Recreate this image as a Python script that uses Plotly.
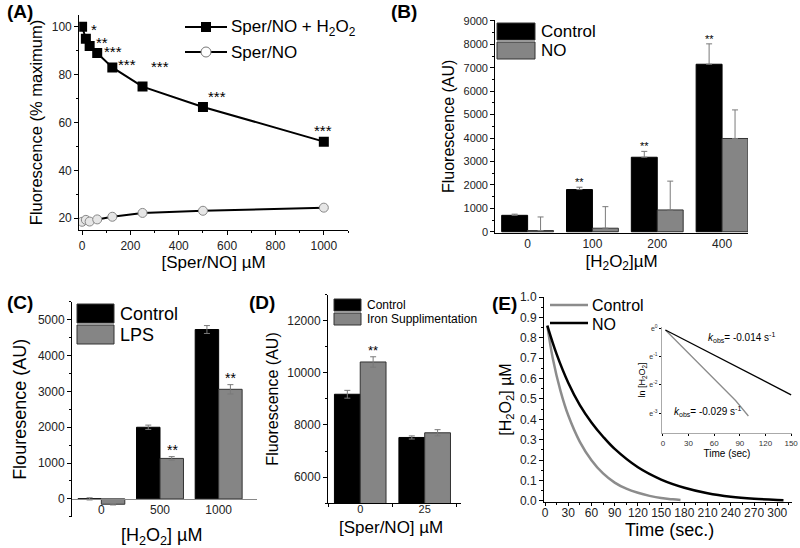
import plotly.graph_objects as go

# ---- data (A) ----
a_x = [0, 15.6, 31.25, 62.5, 125, 250, 500, 1000]
a_h2o2 = [100, 95, 92, 89, 83, 75, 66.5, 52]
a_sper = [18.5, 19.3, 18.6, 19.5, 20.6, 22.2, 23.1, 24.4]
a_stars = ["", "*", "**", "***", "***", "***", "***", "***"]

# ---- data (B) ----
b_cat = ["0", "100", "200", "400"]
b_ctrl = [700, 1800, 3180, 7150]
b_ctrl_err = [50, 100, 250, 870]
b_no = [50, 150, 930, 3980]
b_no_err = [580, 920, 1230, 1220]
b_stars = ["", "**", "**", "**"]

# ---- data (C) ----
c_cat = ["0", "500", "1000"]
c_ctrl = [0, 2000, 4730]
c_ctrl_err = [30, 60, 110]
c_lps = [-150, 1130, 3060]
c_lps_err = [20, 50, 130]
c_stars = ["", "**", "**"]

# ---- data (D) ----
d_cat = ["0", "25"]
d_ctrl = [9180, 7520]
d_ctrl_err = [150, 60]
d_iron = [10420, 7700]
d_iron_err = [200, 120]
d_stars = ["**", ""]

# ---- data (E) ----
e_t_ctrl = [3, 10, 20, 30, 45, 60, 75, 90, 105, 120, 135, 150, 165, 175]
e_ctrl = [0.86, 0.70, 0.54, 0.42, 0.29, 0.2, 0.135, 0.09, 0.06, 0.04, 0.025, 0.014, 0.008, 0.005]
e_t_no = [3, 15, 30, 45, 60, 75, 90, 120, 150, 180, 210, 240, 270, 300, 308]
e_no = [0.86, 0.72, 0.58, 0.47, 0.385, 0.315, 0.255, 0.165, 0.105, 0.065, 0.038, 0.021, 0.011, 0.005, 0.004]

# inset (ln scale)
i_t_ctrl = [3, 85, 100]
i_ctrl = [-0.05, -2.55, -3.1]
i_t_no = [3, 150]
i_no = [-0.05, -2.35]

FONT = "Liberation Sans, Arial, sans-serif"
GREY = "#858585"
LGREY = "#8c8c8c"
ERR = "#7a7a7a"
W, H = 800, 548

fig = go.Figure()

# (A)
fig.add_trace(go.Scatter(x=a_x, y=a_h2o2, mode="lines+markers", name="Sper/NO + H2O2",
                         line=dict(color="black", width=2),
                         marker=dict(symbol="square", size=10, color="black"),
                         xaxis="x", yaxis="y"))
fig.add_trace(go.Scatter(x=a_x, y=a_sper, mode="lines+markers", name="Sper/NO",
                         line=dict(color="black", width=2),
                         marker=dict(symbol="circle", size=9, color="#e6e6e6", line=dict(color="#888", width=1)),
                         xaxis="x", yaxis="y"))

# (B)
fig.add_trace(go.Bar(x=b_cat, y=b_ctrl, name="Control", marker=dict(color="black", line=dict(color="black", width=1)),
                     error_y=dict(type="data", array=b_ctrl_err, arrayminus=[0]*4, symmetric=False, color=ERR, thickness=1, width=3),
                     xaxis="x2", yaxis="y2"))
fig.add_trace(go.Bar(x=b_cat, y=b_no, name="NO", marker=dict(color=GREY, line=dict(color="#333", width=1)),
                     error_y=dict(type="data", array=b_no_err, arrayminus=[0]*4, symmetric=False, color=ERR, thickness=1, width=3),
                     xaxis="x2", yaxis="y2"))

# (C)
fig.add_trace(go.Bar(x=c_cat, y=c_ctrl, name="Control", marker=dict(color="black", line=dict(color="black", width=1)),
                     error_y=dict(type="data", array=c_ctrl_err, color=ERR, thickness=1, width=3),
                     xaxis="x3", yaxis="y3"))
fig.add_trace(go.Bar(x=c_cat, y=c_lps, name="LPS", marker=dict(color=GREY, line=dict(color="#333", width=1)),
                     error_y=dict(type="data", array=c_lps_err, color=ERR, thickness=1, width=3),
                     xaxis="x3", yaxis="y3"))

# (D)
fig.add_trace(go.Bar(x=d_cat, y=d_ctrl, name="Control", marker=dict(color="black", line=dict(color="black", width=1)),
                     error_y=dict(type="data", array=d_ctrl_err, color=ERR, thickness=1, width=3),
                     xaxis="x4", yaxis="y4"))
fig.add_trace(go.Bar(x=d_cat, y=d_iron, name="Iron Supplimentation", marker=dict(color=GREY, line=dict(color="#333", width=1)),
                     error_y=dict(type="data", array=d_iron_err, color=ERR, thickness=1, width=3),
                     xaxis="x4", yaxis="y4"))

# (E)
fig.add_trace(go.Scatter(x=e_t_ctrl, y=e_ctrl, mode="lines", name="Control", line=dict(color=LGREY, width=2.5, shape="spline"),
                         xaxis="x5", yaxis="y5"))
fig.add_trace(go.Scatter(x=e_t_no, y=e_no, mode="lines", name="NO", line=dict(color="black", width=2.5, shape="spline"),
                         xaxis="x5", yaxis="y5"))
# inset
fig.add_trace(go.Scatter(x=i_t_ctrl, y=i_ctrl, mode="lines", line=dict(color=LGREY, width=1.3),
                         xaxis="x6", yaxis="y6"))
fig.add_trace(go.Scatter(x=i_t_no, y=i_no, mode="lines", line=dict(color="black", width=1.3),
                         xaxis="x6", yaxis="y6"))

ann = []
shapes = []
# star annotations (shifts in px from the point)
a_shift = [(0, 0), (3, -1), (4, -7), (5, -9), (4, -8), (6, 10), (3, 0), (-12, 1)]
for (x, y, s), (dx, dy) in zip(zip(a_x, a_h2o2, a_stars), a_shift):
    if s:
        ann.append(dict(x=x, y=y, xref="x", yref="y", text=s, showarrow=False, xanchor="left", yanchor="bottom",
                        xshift=dx, yshift=dy, font=dict(size=15, color="black")))
for i, (v, e, s) in enumerate(zip(b_ctrl, b_ctrl_err, b_stars)):
    if s:
        ann.append(dict(x=i, y=v + e, xref="x2", yref="y2", text=s, showarrow=False, yanchor="bottom",
                        xshift=-13, yshift=-3, font=dict(size=11, color="black")))
for i, (v, e, s) in enumerate(zip(c_lps, c_lps_err, c_stars)):
    if s:
        ann.append(dict(x=i, y=v + e, xref="x3", yref="y3", text=s, showarrow=False, yanchor="bottom",
                        xshift=12, yshift=-3, font=dict(size=14, color="black")))
for i, (v, e, s) in enumerate(zip(d_iron, d_iron_err, d_stars)):
    if s:
        ann.append(dict(x=i, y=v + e, xref="x4", yref="y4", text=s, showarrow=False, yanchor="bottom",
                        xshift=13, yshift=-3, font=dict(size=13, color="black")))

def px_x(p):
    return p / W

def px_y(p):
    return 1 - p / H

def label(text, x, y, size, xanchor="center", **kw):
    ann.append(dict(x=px_x(x), y=px_y(y), xref="paper", yref="paper", text=text, showarrow=False,
                    xanchor=xanchor, yanchor="middle", font=dict(size=size, color="black"), **kw))

# panel labels
for txt, px, py in [("(A)", 20, 12), ("(B)", 404, 12), ("(C)", 20, 302), ("(D)", 262, 302), ("(E)", 504, 303)]:
    label("<b>" + txt + "</b>", px, py, 19)

# x titles placed where the original has them
label("[H<sub>2</sub>O<sub>2</sub>] µM", 161, 536, 18)
label("[Sper/NO] µM", 391, 527, 17)
label("Time (sec.)", 669, 530, 18)

# legend keys for the bar panels (big rectangles as in the original)
def bar_legend(x0, y0, w, h, gap, labels, size):
    for k, (lab, col) in enumerate(zip(labels, ["black", GREY])):
        top = y0 + k * (h + gap)
        shapes.append(dict(type="rect", xref="paper", yref="paper",
                           x0=px_x(x0), x1=px_x(x0 + w), y0=px_y(top + h), y1=px_y(top),
                           fillcolor=col, line=dict(color="#333", width=1)))
        label(lab, x0 + w + 4, top + h / 2, size, xanchor="left")

bar_legend(497, 23, 38, 17, 2, ["Control", "NO"], 17)
bar_legend(77, 304, 37, 19, 2, ["Control", "LPS"], 18)
bar_legend(334, 299, 27, 12, 2, ["Control", "Iron Supplimentation"], 12)

# line legends (A and E)
def line_key(x0, x1, y, col, width):
    shapes.append(dict(type="line", xref="paper", yref="paper", x0=px_x(x0), x1=px_x(x1), y0=px_y(y), y1=px_y(y),
                       line=dict(color=col, width=width)))

line_key(185, 227, 27, "black", 2)
shapes.append(dict(type="rect", xref="paper", yref="paper", x0=px_x(201), x1=px_x(211), y0=px_y(32), y1=px_y(22),
                   fillcolor="black", line=dict(color="black", width=0)))
label("Sper/NO + H<sub>2</sub>O<sub>2</sub>", 229, 28, 17, xanchor="left")
line_key(185, 227, 52, "black", 2)
shapes.append(dict(type="circle", xref="paper", yref="paper", x0=px_x(201), x1=px_x(211), y0=px_y(57), y1=px_y(47),
                   fillcolor="white", line=dict(color="#777", width=1)))
label("Sper/NO", 229, 52, 17, xanchor="left")

line_key(550, 588, 305, LGREY, 2.5)
label("Control", 590, 305, 16, xanchor="left")
line_key(550, 588, 323, "black", 2.5)
label("NO", 590, 324, 16, xanchor="left")

# inset texts
ann.append(dict(x=92, y=-0.3, xref="x6", yref="y6", text="<i>k</i><sub>obs</sub>= -0.014 s<sup>-1</sup>",
                showarrow=False, font=dict(size=10, color="black")))
ann.append(dict(x=52, y=-2.95, xref="x6", yref="y6", text="<i>k</i><sub>obs</sub>= -0.029 s<sup>-1</sup>",
                showarrow=False, font=dict(size=10, color="black")))

def ax(**kw):
    base = dict(showline=True, linecolor="black", linewidth=1, ticks="outside", ticklen=4, tickcolor="black",
                showgrid=False, zeroline=False, tickfont=dict(size=12, color="#222"), mirror=False,
                automargin=False)
    base.update(kw)
    return base

fig.update_layout(
    width=W, height=H, margin=dict(l=0, r=0, t=0, b=0, autoexpand=False),
    paper_bgcolor="white", plot_bgcolor="white",
    font=dict(family=FONT, color="black"),
    showlegend=False,
    barmode="group", bargap=0.2, bargroupgap=0,
    annotations=ann, shapes=shapes,
    # A
    xaxis=ax(domain=[0.099, 0.435], anchor="y", range=[-12, 1100], tickvals=[0, 200, 400, 600, 800, 1000],
             minor=dict(dtick=100, ticks="outside", ticklen=2, tickcolor="black"),
             title=dict(text="[Sper/NO] µM", font=dict(size=17), standoff=2)),
    yaxis=ax(domain=[0.580, 0.973], anchor="x", range=[15, 105], tickvals=[20, 40, 60, 80, 100],
             minor=dict(dtick=10, ticks="outside", ticklen=2, tickcolor="black"),
             title=dict(text="Fluorescence (% maximum)", font=dict(size=16.5), standoff=4)),
    # B
    xaxis2=ax(domain=[0.619, 0.935], anchor="y2", type="category", range=[-0.5, 3.4], ticklen=0,
              title=dict(text="[H<sub>2</sub>O<sub>2</sub>]µM", font=dict(size=17), standoff=4)),
    yaxis2=ax(domain=[0.575, 0.964], anchor="x2", range=[-50, 9050], dtick=1000, tickfont=dict(size=11, color="#222"),
              minor=dict(dtick=500, ticks="outside", ticklen=2, tickcolor="black"),
              title=dict(text="Fluorescence (AU)", font=dict(size=16), standoff=4)),
    # C
    xaxis3=ax(domain=[0.09, 0.321], anchor="free", position=1 - 499 / H, type="category", range=[-0.5, 2.65],
              linecolor="#888", ticklen=0),
    yaxis3=ax(domain=[0.057, 0.449], anchor="x3", range=[-500, 5500], dtick=1000,
              minor=dict(dtick=500, ticks="outside", ticklen=2, tickcolor="black"),
              title=dict(text="Flouresence (AU)", font=dict(size=18), standoff=6)),
    # D
    xaxis4=ax(domain=[0.41, 0.576], anchor="y4", type="category", range=[-0.5, 1.56], tickson="boundaries",
              ticklen=3, tickfont=dict(size=11, color="#222"), ticklabelstandoff=-4),
    yaxis4=ax(domain=[0.082, 0.462], anchor="x4", range=[5000, 13000], tickvals=[6000, 8000, 10000, 12000],
              tickformat="d",
              minor=dict(dtick=1000, ticks="outside", ticklen=2, tickcolor="black"),
              title=dict(text="Fluorescence (AU)", font=dict(size=16), standoff=4)),
    # E
    xaxis5=ax(domain=[0.68, 0.99], anchor="y5", range=[-1.3, 319], dtick=30, ticklen=3, ticklabelstandoff=-3,
              minor=dict(dtick=15, ticks="outside", ticklen=2, tickcolor="black")),
    yaxis5=ax(domain=[0.084, 0.458], anchor="x5", range=[-0.005, 1.0], dtick=0.1, tickformat=".1f",
              minor=dict(dtick=0.05, ticks="outside", ticklen=2, tickcolor="black"),
              title=dict(text="[H<sub>2</sub>O<sub>2</sub>] µM", font=dict(size=16), standoff=4)),
    # inset
    xaxis6=ax(domain=[0.8275, 0.99], anchor="y6", range=[-1, 151], dtick=30, linecolor="#aaa", ticklen=2,
              tickfont=dict(size=8, color="#333"),
              title=dict(text="Time (sec)", font=dict(size=10), standoff=0)),
    yaxis6=ax(domain=[0.210, 0.403], anchor="x6", range=[-3.7, 0.05], tickvals=[-3, -2, -1, 0], linecolor="#aaa", ticklen=2,
              ticktext=["e<sup>-3</sup>", "e<sup>-2</sup>", "e<sup>-1</sup>", "e<sup>0</sup>"],
              tickfont=dict(size=7, color="#333"),
              title=dict(text="ln [H<sub>2</sub>O<sub>2</sub>]", font=dict(size=9), standoff=2)),
)

# drop the default page margin so the 800x548 figure sits at the window origin
fig.write_html("out.html", config={"displayModeBar": False},
               post_script="document.body.style.margin='0';")
